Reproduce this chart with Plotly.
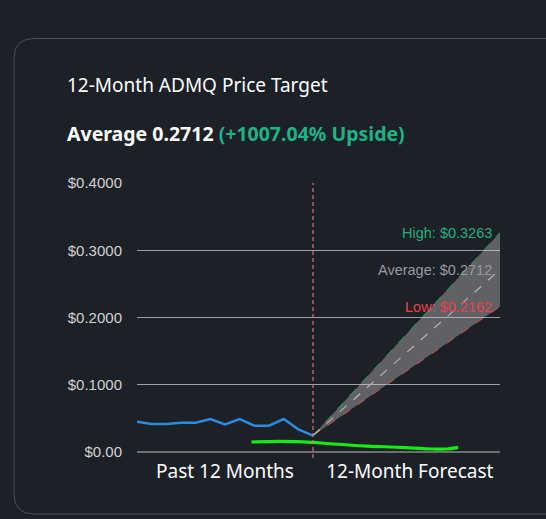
import plotly.graph_objects as go

# ---- data ----
past_x = list(range(13))
past_prices = [0.0451, 0.0417, 0.0417, 0.0436, 0.0436, 0.0491, 0.0412,
               0.0491, 0.0391, 0.0391, 0.0491, 0.0338, 0.0245]
forecast_x = [12, 24.75]
current_price = 0.0245
high_target = 0.3263
avg_target = 0.2712
low_target = 0.2162
green_x = [7.8, 9.75, 11.9, 13.4, 15.7, 17.9, 20.2, 21.1, 21.9]
green_y = [0.0149, 0.0159, 0.0144, 0.0119, 0.0089, 0.0070, 0.0045, 0.0045, 0.0070]
y_tickvals = [0, 0.1, 0.2, 0.3, 0.4]
y_ticktext = ["$0.00", "$0.1000", "$0.2000", "$0.3000", "$0.4000"]
x_tickvals = [6, 18.6]
x_ticktext = ["Past 12 Months", "12-Month Forecast"]

W, H = 546, 519
L, R, T, B = 137, 500, 183, 458
BG = "#1c2027"
FONT = "Noto Sans"

def px(x):
    return (x - L) / (R - L)

def py(y):
    return (B - y) / (B - T)

fig = go.Figure()

# forecast cone
fig.add_trace(go.Scatter(x=forecast_x, y=[current_price, low_target], mode="lines",
                         line=dict(color="#e04a4a", width=1, dash="dash"),
                         hoverinfo="skip", showlegend=False))
fig.add_trace(go.Scatter(x=forecast_x, y=[current_price, high_target], mode="lines",
                         line=dict(color="#1f9e4f", width=1, dash="dash"),
                         fill="tonexty", fillcolor="rgba(200,200,202,0.39)",
                         hoverinfo="skip", showlegend=False))
fig.add_trace(go.Scatter(x=forecast_x, y=[current_price, avg_target], mode="lines",
                         line=dict(color="#b4b4b8", width=1.2, dash="dash"),
                         hoverinfo="skip", showlegend=False))

# past prices
fig.add_trace(go.Scatter(x=past_x, y=past_prices, mode="lines",
                         line=dict(color="#2a8be0", width=2.5),
                         showlegend=False))

# green line
fig.add_trace(go.Scatter(x=green_x, y=green_y, mode="lines",
                         line=dict(color="#12ee12", width=3.2, shape="spline"),
                         showlegend=False))

# vertical dashed divider
fig.add_shape(type="line", xref="x", yref="paper", x0=12, x1=12, y0=0, y1=1,
              line=dict(color="#e0707f", width=1.2, dash="4px,3px"))

# target labels
for val, txt, col in [(high_target, "High: $0.3263", "#1cb07e"),
                      (avg_target, "Average: $0.2712", "#9a9aa0"),
                      (low_target, "Low: $0.2162", "#e8434b")]:
    fig.add_annotation(x=forecast_x[-1], y=val, xref="x", yref="y", text=txt,
                       showarrow=False, xanchor="right", yanchor="middle",
                       xshift=-6, font=dict(family="Liberation Sans", size=14.5, color=col))

# card border (rounded rect)
x0, y0, x1, y1, r = 14, 38.5, 566, 514, 20
path = (f"M {px(x0+r)},{py(y0)} L {px(x1-r)},{py(y0)} "
        f"Q {px(x1)},{py(y0)} {px(x1)},{py(y0+r)} L {px(x1)},{py(y1-r)} "
        f"Q {px(x1)},{py(y1)} {px(x1-r)},{py(y1)} L {px(x0+r)},{py(y1)} "
        f"Q {px(x0)},{py(y1)} {px(x0)},{py(y1-r)} L {px(x0)},{py(y0+r)} "
        f"Q {px(x0)},{py(y0)} {px(x0+r)},{py(y0)} Z")
fig.add_shape(type="path", xref="paper", yref="paper", path=path,
              line=dict(color="#4a4e55", width=1), layer="below")

# titles
fig.add_annotation(xref="paper", yref="paper", x=px(65), y=py(85),
                   xanchor="left", yanchor="middle", showarrow=False,
                   text="12-Month ADMQ Price Target",
                   font=dict(family=FONT, size=19, color="#ffffff"))
fig.add_annotation(xref="paper", yref="paper", x=px(65), y=py(133),
                   xanchor="left", yanchor="middle", showarrow=False,
                   text="<b>Average 0.2712</b> <b><span style='color:#1db386'>(+1007.04% Upside)</span></b>",
                   font=dict(family=FONT, size=19.5, color="#ffffff"))

fig.update_layout(
    width=W, height=H,
    margin=dict(l=L, r=W - R, t=T, b=H - B),
    paper_bgcolor=BG, plot_bgcolor=BG,
    showlegend=False,
    xaxis=dict(range=[0, 24.75], showgrid=False, zeroline=False, showline=False,
               tickvals=x_tickvals, ticktext=x_ticktext, ticks="",
               tickfont=dict(family=FONT, size=19, color="#ffffff")),
    yaxis=dict(range=[-0.0089, 0.4], tickvals=y_tickvals, ticktext=y_ticktext,
               showgrid=True, gridcolor="#a0a0a0", gridwidth=1.3,
               zeroline=True, zerolinecolor="#6e6e6e", zerolinewidth=2,
               showline=False, ticks="", ticklabelstandoff=14,
               tickfont=dict(family="Liberation Sans", size=15, color="#d2d2d2")),
)

fig.write_html("out.html",
               config={"displayModeBar": False},
               post_script="document.body.style.margin='0';document.body.style.overflow='hidden';document.body.style.background='#1c2027';")
